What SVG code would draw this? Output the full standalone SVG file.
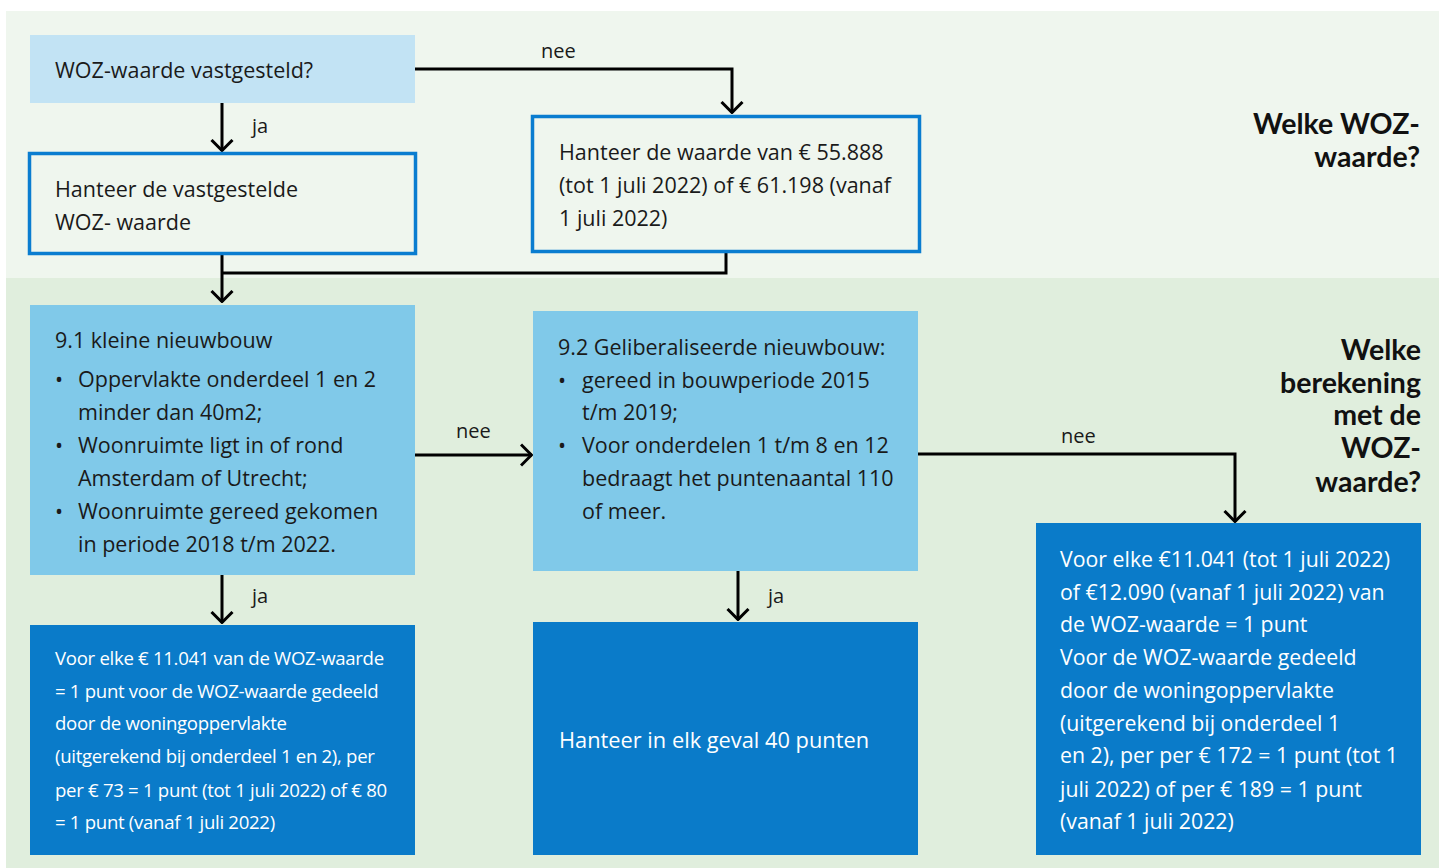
<svg xmlns="http://www.w3.org/2000/svg" width="1439" height="868" viewBox="0 0 1439 868">
<defs>
<style>
.t{font-family:"Open Sans","Noto Sans",sans-serif;font-size:21.5px;fill:#1a1a1a}
.w{font-family:"Open Sans","Noto Sans",sans-serif;font-size:21.3px;fill:#ffffff}
.w8{font-family:"Open Sans","Noto Sans",sans-serif;font-size:21.8px;fill:#ffffff}
.ws{font-family:"Open Sans","Noto Sans",sans-serif;font-size:18.6px;fill:#ffffff;letter-spacing:-0.3px}
.h{font-family:Lato,"Open Sans",sans-serif;font-size:28.5px;font-weight:bold;fill:#111;text-anchor:end}
.lbl{font-family:"Open Sans","Noto Sans",sans-serif;font-size:20px;fill:#1a1a1a}
.c{fill:none;stroke:#000;stroke-width:3}
.outl{fill:#eff6ee;stroke:#0a7dd0;stroke-width:3.5}
.lb{fill:#80c9e9}
.db{fill:#0a7bc9}
</style>
<marker id="ah" viewBox="0 0 13 24" refX="12" refY="12" markerWidth="13" markerHeight="24" markerUnits="userSpaceOnUse" orient="auto">
<path d="M1,1.5 L11.5,12 L1,22.5" fill="none" stroke="#000" stroke-width="3"/>
</marker>
</defs>
<rect x="0" y="0" width="1439" height="868" fill="#ffffff"/>
<rect x="6" y="11" width="1433" height="267" fill="#eff6ee"/>
<rect x="6" y="278" width="1433" height="590" fill="#e0eedd"/>

<text class="h" x="1420" y="134">Welke WOZ-</text>
<text class="h" x="1420" y="167">waarde?</text>
<text class="h" x="1421" y="360">Welke</text>
<text class="h" x="1421" y="393">berekening</text>
<text class="h" x="1421" y="425">met de</text>
<text class="h" x="1421" y="458">WOZ-</text>
<text class="h" x="1421" y="492">waarde?</text>

<g id="connectors">
<path class="c" d="M222,103 V151" marker-end="url(#ah)"/>
<path class="c" d="M415,69 H732 V113" marker-end="url(#ah)"/>
<path class="c" d="M222,255 V302" marker-end="url(#ah)"/>
<path class="c" d="M726,252 V273 H222"/>
<path class="c" d="M415,455 H532" marker-end="url(#ah)"/>
<path class="c" d="M918,454 H1235 V522" marker-end="url(#ah)"/>
<path class="c" d="M222,575 V623" marker-end="url(#ah)"/>
<path class="c" d="M738,571 V620" marker-end="url(#ah)"/>
<text class="lbl" x="252" y="133">ja</text>
<text class="lbl" x="541" y="58">nee</text>
<text class="lbl" x="456" y="438">nee</text>
<text class="lbl" x="1061" y="443">nee</text>
<text class="lbl" x="252" y="603">ja</text>
<text class="lbl" x="768" y="603">ja</text>
</g>

<g id="n1">
<rect x="30" y="35" width="385" height="68" fill="#c2e3f4"/>
<text class="t" x="55" y="78">WOZ-waarde vastgesteld?</text>
</g>
<g id="n2">
<rect class="outl" x="29.5" y="153.5" width="386" height="100"/>
<text class="t" x="55" y="197">Hanteer de vastgestelde</text>
<text class="t" x="55" y="230">WOZ- waarde</text>
</g>
<g id="n3">
<rect class="outl" x="532.5" y="116.5" width="387" height="135"/>
<text class="t" x="559" y="160">Hanteer de waarde van € 55.888</text>
<text class="t" x="559" y="193">(tot 1 juli 2022) of € 61.198 (vanaf</text>
<text class="t" x="559" y="226">1 juli 2022)</text>
</g>
<g id="n4">
<rect class="lb" x="30" y="305" width="385" height="270"/>
<text class="t" x="55" y="348">9.1 kleine nieuwbouw</text>
<text class="t" x="55" y="387">•</text>
<text class="t" x="78" y="387">Oppervlakte onderdeel 1 en 2</text>
<text class="t" x="78" y="420">minder dan 40m2;</text>
<text class="t" x="55" y="453">•</text>
<text class="t" x="78" y="453">Woonruimte ligt in of rond</text>
<text class="t" x="78" y="486">Amsterdam of Utrecht;</text>
<text class="t" x="55" y="519">•</text>
<text class="t" x="78" y="519">Woonruimte gereed gekomen</text>
<text class="t" x="78" y="552">in periode 2018 t/m 2022.</text>
</g>
<g id="n5">
<rect class="lb" x="533" y="311" width="385" height="260"/>
<text class="t" x="558" y="355">9.2 Geliberaliseerde nieuwbouw:</text>
<text class="t" x="558" y="388">•</text>
<text class="t" x="582" y="388">gereed in bouwperiode 2015</text>
<text class="t" x="582" y="420">t/m 2019;</text>
<text class="t" x="558" y="453">•</text>
<text class="t" x="582" y="453">Voor onderdelen 1 t/m 8 en 12</text>
<text class="t" x="582" y="486">bedraagt het puntenaantal 110</text>
<text class="t" x="582" y="519">of meer.</text>
</g>
<g id="n6">
<rect class="db" x="1036" y="523" width="385" height="332"/>
<text class="w" x="1060" y="567">Voor elke €11.041 (tot 1 juli 2022)</text>
<text class="w" x="1060" y="600">of €12.090 (vanaf 1 juli 2022) van</text>
<text class="w" x="1060" y="632">de WOZ-waarde = 1 punt</text>
<text class="w" x="1060" y="665">Voor de WOZ-waarde gedeeld</text>
<text class="w" x="1060" y="698">door de woningoppervlakte</text>
<text class="w" x="1060" y="731">(uitgerekend bij onderdeel 1</text>
<text class="w" x="1060" y="763">en 2), per per € 172 = 1 punt (tot 1</text>
<text class="w" x="1060" y="797">juli 2022) of per € 189 = 1 punt</text>
<text class="w" x="1060" y="829">(vanaf 1 juli 2022)</text>
</g>
<g id="n7">
<rect class="db" x="30" y="625" width="385" height="230"/>
<text class="ws" x="55" y="665">Voor elke € 11.041 van de WOZ-waarde</text>
<text class="ws" x="55" y="698">= 1 punt voor de WOZ-waarde gedeeld</text>
<text class="ws" x="55" y="730">door de woningoppervlakte</text>
<text class="ws" x="55" y="763">(uitgerekend bij onderdeel 1 en 2), per</text>
<text class="ws" x="55" y="797">per € 73 = 1 punt (tot 1 juli 2022) of € 80</text>
<text class="ws" x="55" y="829">= 1 punt (vanaf 1 juli 2022)</text>
</g>
<g id="n8">
<rect class="db" x="533" y="622" width="385" height="233"/>
<text class="w8" x="559" y="748">Hanteer in elk geval 40 punten</text>
</g>
</svg>
